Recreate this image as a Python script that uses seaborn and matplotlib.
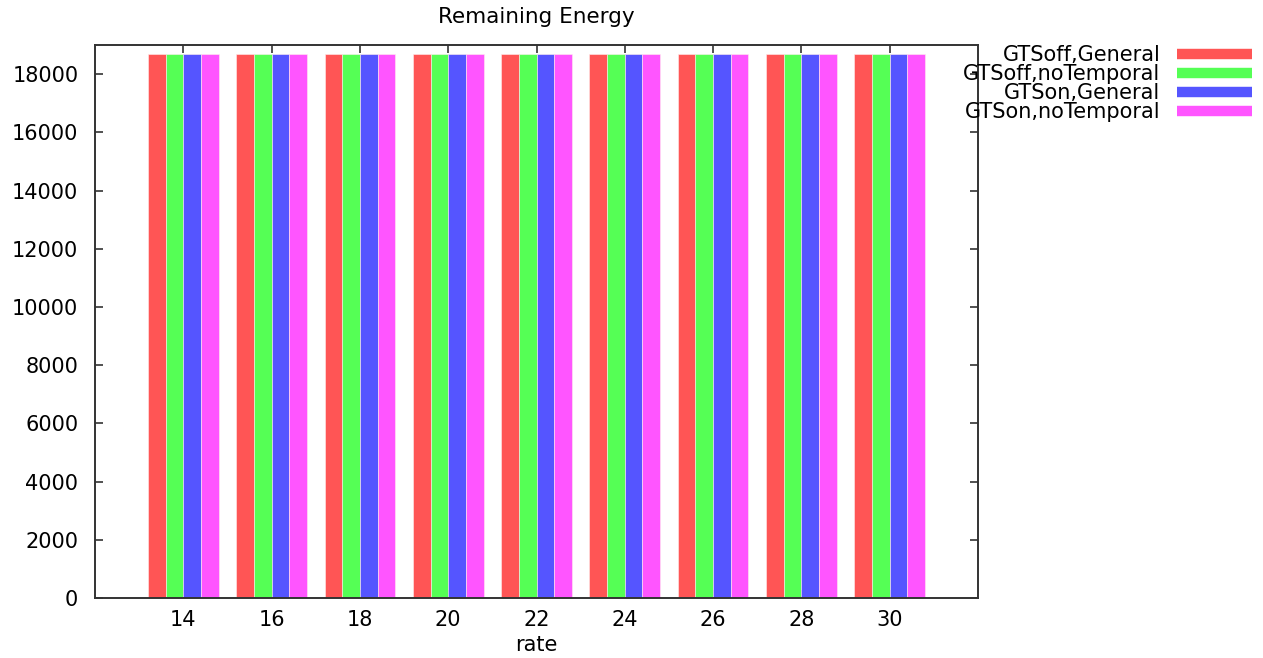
import pandas as pd
import matplotlib.pyplot as plt
import seaborn as sns
from matplotlib.lines import Line2D

plt.switch_backend("Agg")

# data
rates = [14, 16, 18, 20, 22, 24, 26, 28, 30]
series = ["GTSoff,General", "GTSoff,noTemporal", "GTSon,General", "GTSon,noTemporal"]
gtsoff_general = [18700, 18700, 18700, 18700, 18700, 18700, 18700, 18700, 18700]
gtsoff_notemporal = [18700, 18700, 18700, 18700, 18700, 18700, 18700, 18700, 18700]
gtson_general = [18700, 18700, 18700, 18700, 18700, 18700, 18700, 18700, 18700]
gtson_notemporal = [18700, 18700, 18700, 18700, 18700, 18700, 18700, 18700, 18700]
yticks = [0, 2000, 4000, 6000, 8000, 10000, 12000, 14000, 16000, 18000]

colors = ["#ff5555", "#55ff55", "#5555ff", "#ff55ff"]

rows = []
for name, vals in zip(series, [gtsoff_general, gtsoff_notemporal, gtson_general, gtson_notemporal]):
    for r, v in zip(rates, vals):
        rows.append({"rate": r, "series": name, "energy": v})
df = pd.DataFrame(rows)

sns.set_style("ticks")
plt.rcParams["font.family"] = ["DejaVu Sans"]
plt.rcParams["font.size"] = 15
plt.rcParams["text.color"] = "black"
plt.rcParams["axes.labelcolor"] = "black"

fig = plt.figure(figsize=(12.63, 6.58), dpi=100)
ax = fig.add_axes([95 / 1263, 1 - 598 / 658, (978 - 95) / 1263, (598 - 45) / 658])

sns.barplot(data=df, x="rate", y="energy", hue="series", order=rates, hue_order=series,
            palette=colors, width=0.8, gap=0, saturation=1, legend=False,
            edgecolor="#ffeeee", linewidth=0.4, ax=ax, errorbar=None)

ax.set_xlim(-1, 9)
ax.set_ylim(0, 19000)
ax.set_yticks(yticks)
ax.set_yticklabels([str(t) for t in yticks])
ax.set_xlabel("rate", fontsize=15, labelpad=3)
ax.set_ylabel("")
ax.set_title("Remaining Energy", fontsize=15.5, pad=16)

for s in ax.spines.values():
    s.set_visible(True)
    s.set_color("#333333")
    s.set_linewidth(1.4)
ax.tick_params(axis="both", direction="in", length=6, width=1.2, color="#333333",
               labelcolor="black", top=True, right=True, labelsize=15)
ax.tick_params(axis="y", pad=12)
ax.tick_params(axis="x", pad=9)

handles = [Line2D([0], [0], color=c, lw=7.5, solid_capstyle="butt") for c in colors]
fig.legend(handles, series, loc="upper right", bbox_to_anchor=(1252 / 1263, 1 - 45 / 658),
           frameon=False, markerfirst=False, handlelength=3.6, handletextpad=0.8,
           labelspacing=-0.05, borderpad=0, borderaxespad=0, fontsize=15)

fig.savefig("out.png", dpi=100)
